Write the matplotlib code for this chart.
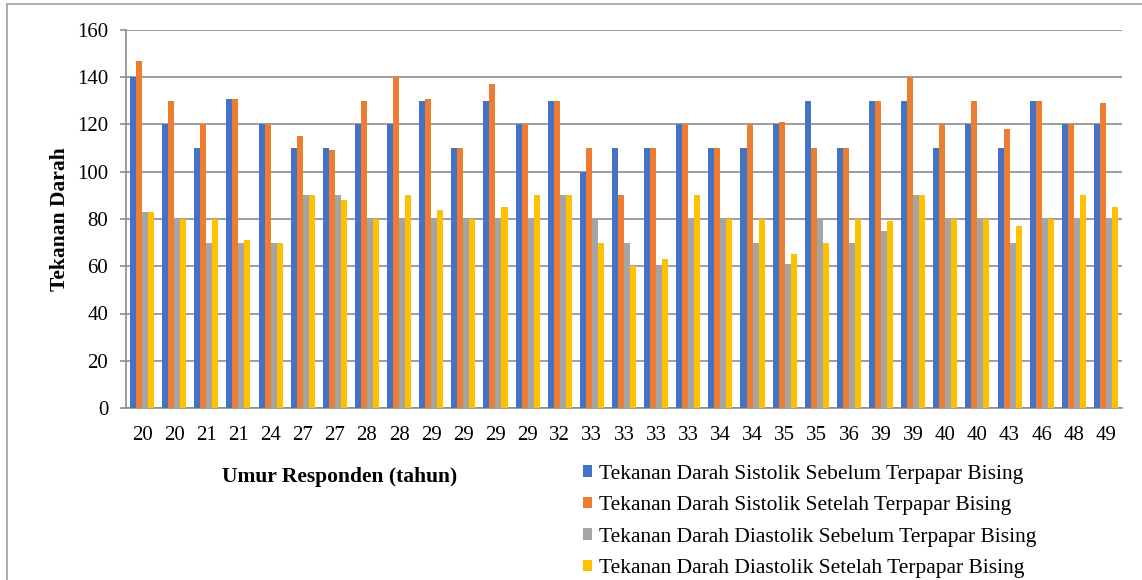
import numpy as np
import matplotlib.pyplot as plt
from matplotlib.lines import Line2D

# umur responden (tahun)
umur = ['20', '20', '21', '21', '24', '27', '27', '28', '28', '29', '29', '29', '29', '32', '33', '33',
        '33', '33', '34', '34', '35', '35', '36', '39', '39', '40', '40', '43', '46', '48', '49']

sistolik_sebelum = [140, 120, 110, 131, 120, 110, 110, 120, 120, 130, 110, 130, 120, 130, 100, 110,
                    110, 120, 110, 110, 120, 130, 110, 130, 130, 110, 120, 110, 130, 120, 120]
sistolik_setelah = [147, 130, 120, 131, 120, 115, 109, 130, 140, 131, 110, 137, 120, 130, 110, 90,
                    110, 120, 110, 120, 121, 110, 110, 130, 140, 120, 130, 118, 130, 120, 129]
diastolik_sebelum = [83, 80, 70, 70, 70, 90, 90, 80, 80, 80, 80, 80, 80, 90, 80, 70,
                     60, 80, 80, 70, 61, 80, 70, 75, 90, 80, 80, 70, 80, 80, 80]
diastolik_setelah = [83, 80, 80, 71, 70, 90, 88, 80, 90, 84, 80, 85, 90, 90, 70, 60,
                     63, 90, 80, 80, 65, 70, 80, 79, 90, 80, 80, 77, 80, 90, 85]

seri = [
    ('Tekanan Darah Sistolik Sebelum Terpapar Bising', sistolik_sebelum, '#4472C4'),
    ('Tekanan Darah Sistolik Setelah Terpapar Bising', sistolik_setelah, '#ED7D31'),
    ('Tekanan Darah Diastolik Sebelum Terpapar Bising', diastolik_sebelum, '#A5A5A5'),
    ('Tekanan Darah Diastolik Setelah Terpapar Bising', diastolik_setelah, '#FFC000'),
]

plt.rcParams['font.family'] = ['Liberation Serif', 'DejaVu Serif']

fig = plt.figure(figsize=(11.42, 5.8), dpi=100)
ax = fig.add_axes([126 / 1142, 1 - 408 / 580, (1122 - 126) / 1142, (408 - 30) / 580])

x = np.arange(len(umur))
w = 0.187
handles = []
for i, (nama, nilai, warna) in enumerate(seri):
    b = ax.bar(x + (i - 1.5) * w, nilai, w, color=warna, label=nama, zorder=3)
    handles.append(b)

ax.set_xlim(-0.5, len(umur) - 0.5)
ax.set_ylim(0, 160)
ax.set_yticks(np.arange(0, 161, 20))
ax.set_xticks(x)
ax.set_xticklabels(umur)
ax.tick_params(axis='x', length=0, labelsize=15, pad=13)
ax.tick_params(axis='y', length=4.3, width=1.2, color='#8c8c8c', labelsize=15, pad=8.5)
ax.grid(axis='y', color='#8c8c8c', linewidth=1.2, zorder=0)

for s in ['top', 'right']:
    ax.spines[s].set_visible(False)
for s in ['left', 'bottom']:
    ax.spines[s].set_color('#8c8c8c')
    ax.spines[s].set_linewidth(1.2)

ax.set_ylabel('Tekanan Darah', fontsize=15.5, fontweight='bold', labelpad=5)

fig.text(340 / 1142, 1 - 477 / 580, 'Umur Responden (tahun)', fontsize=15.5, fontweight='bold',
         ha='center', va='center')

fig.legend(handles=handles, loc='upper left', bbox_to_anchor=(574 / 1142, 1 - 456 / 580),
           frameon=False, fontsize=15.5, handlelength=0.45, handleheight=0.45, handletextpad=0.3,
           labelspacing=0.58, borderaxespad=0)

# garis tepi bagan (atas dan kiri)
fig.lines.append(Line2D([7 / 1142, 1], [1 - 4 / 580, 1 - 4 / 580], transform=fig.transFigure,
                        color='#a6a6a6', linewidth=1.3))
fig.lines.append(Line2D([7 / 1142, 7 / 1142], [0, 1 - 4 / 580], transform=fig.transFigure,
                        color='#a6a6a6', linewidth=1.3))

fig.savefig('out.png', dpi=100)
